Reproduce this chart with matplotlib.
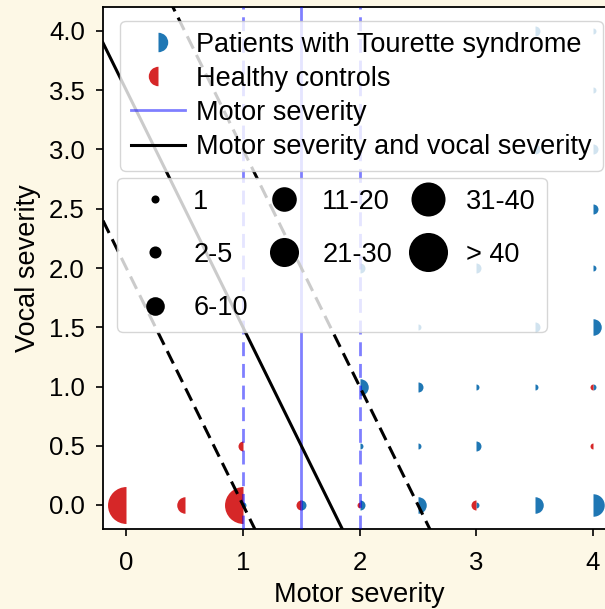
import numpy as np
import matplotlib.pyplot as plt
from matplotlib.lines import Line2D

plt.rcParams['font.family'] = ['Liberation Sans', 'DejaVu Sans']

# patients with Tourette syndrome: (motor, vocal) grid cells and counts
motor_pat = [1.0, 1.5, 2.0, 2.5, 3.0, 3.5, 4.0,
             2.0, 2.5, 3.0,
             2.0, 2.5, 3.0, 3.5, 4.0,
             2.5, 3.5, 4.0,
             2.0, 3.0, 4.0,
             4.0,
             3.5, 4.0,
             4.0,
             3.5, 4.0]
vocal_pat = [0.0, 0.0, 0.0, 0.0, 0.0, 0.0, 0.0,
             0.5, 0.5, 0.5,
             1.0, 1.0, 1.0, 1.0, 1.0,
             1.5, 1.5, 1.5,
             2.0, 2.0, 2.0,
             2.5,
             3.0, 3.0,
             3.5,
             4.0, 4.0]
count_pat = [1, 3, 3, 8, 1, 8, 15,
             1, 1, 3,
             8, 3, 1, 1, 1,
             1, 3, 8,
             3, 3, 1,
             3,
             3, 3,
             1,
             3, 1]

# healthy controls
motor_hc = [0.0, 0.5, 1.0, 1.5, 2.0, 3.0, 1.0, 4.0, 4.0]
vocal_hc = [0.0, 0.0, 0.0, 0.0, 0.0, 0.0, 0.5, 0.5, 1.0]
count_hc = [45, 8, 45, 3, 1, 3, 3, 1, 1]

# decision boundaries
motor_cutoffs = [1.0, 1.5, 2.0]
boundary_slope = -2.0
boundary_intercepts = [2.0, 3.5, 5.0]

size_labels = ['1', '2-5', '6-10', '11-20', '21-30', '31-40', '> 40']
bin_edges = [1, 2, 6, 11, 21, 31, 41]

BLUE = '#1f77b4'
RED = '#d62728'
BG = '#fdf8e6'
bin_ms = [4.3, 7.2, 11.9, 16.2, 19.4, 23.0, 26.6]


def msize(c):
    return bin_ms[np.digitize(c, bin_edges) - 1]


fig = plt.figure(figsize=(6.05, 6.09), dpi=100, facecolor=BG)
ax = fig.add_axes([103 / 605, 80.3 / 609, 513.3 / 605, 521.4 / 609])

for x, y, c in zip(motor_pat, vocal_pat, count_pat):
    ax.plot(x, y, 'o', ms=msize(c), fillstyle='right', color=BLUE,
            markerfacecoloralt='none', mew=0, zorder=2)
for x, y, c in zip(motor_hc, vocal_hc, count_hc):
    ax.plot(x, y, 'o', ms=msize(c), fillstyle='left', color=RED,
            markerfacecoloralt='none', mew=0, zorder=2)

for xc, ls in zip(motor_cutoffs, ['--', '-', '--']):
    ln = ax.axvline(xc, color='blue', alpha=0.5, lw=2, ls=ls, zorder=3)
    if ls == '--':
        ln.set_dashes((5, 2.8))

xs = np.array([-0.2, 4.2])
for b, ls in zip(boundary_intercepts, ['--', '-', '--']):
    ln, = ax.plot(xs, b + boundary_slope * xs, color='k', lw=2.2, ls=ls, zorder=3)
    if ls == '--':
        ln.set_dashes((4.5, 2.3))

ax.set_xlim(-0.2, 4.2)
ax.set_ylim(-0.2, 4.2)
ax.set_xticks([0, 1, 2, 3, 4])
ax.set_yticks(np.arange(0, 4.01, 0.5))
ax.yaxis.set_major_formatter('{x:.1f}')
ax.tick_params(labelsize=18.5, length=5, width=1.2, pad=8)
ax.tick_params(axis='x', pad=11)
for s in ax.spines.values():
    s.set_linewidth(1.3)
ax.set_xlabel('Motor severity', fontsize=19.5, labelpad=5)
ax.set_ylabel('Vocal severity', fontsize=19.5, labelpad=6)

h1 = [Line2D([], [], ls='none', marker='o', ms=14, fillstyle='right', color=BLUE,
             markerfacecoloralt='none', mew=0),
      Line2D([], [], ls='none', marker='o', ms=14, fillstyle='left', color=RED,
             markerfacecoloralt='none', mew=0),
      Line2D([], [], color='blue', alpha=0.5, lw=2),
      Line2D([], [], color='k', lw=2.2)]
leg1 = ax.legend(h1, ['Patients with Tourette syndrome', 'Healthy controls',
                      'Motor severity', 'Motor severity and vocal severity'],
                 loc='upper right', fontsize=19.5, handlelength=2.0,
                 handletextpad=0.4, labelspacing=0.3, borderpad=0.4)
ax.add_artist(leg1)

h2 = [Line2D([], [], ls='none', marker='o', ms=m, color='k', mew=1.5) for m in bin_ms]
ax.legend(h2, size_labels, ncol=3, loc='upper left', bbox_to_anchor=(0.0279, 0.6726),
          borderaxespad=0, fontsize=19.5, labelspacing=1.0, handlelength=2.0,
          handletextpad=0.4, columnspacing=0.35, borderpad=0.4)

fig.savefig('out.png', dpi=100, facecolor=BG)
